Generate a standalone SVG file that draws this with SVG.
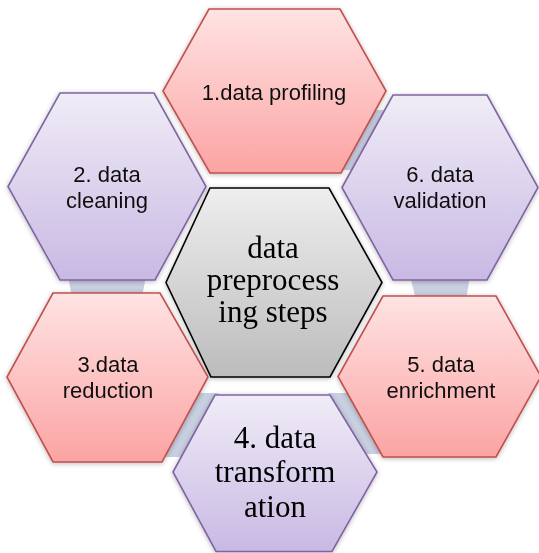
<svg xmlns="http://www.w3.org/2000/svg" width="539" height="553" viewBox="0 0 539 553">
  <style>
    .red { fill: url(#gRed); stroke: #c0504d; stroke-width: 1.6; }
    .pur { fill: url(#gPur); stroke: #8064a2; stroke-width: 1.6; }
    .hub { fill: url(#gGrey); stroke: #000; stroke-width: 1.6; }
    .lbl { font-family: "Liberation Sans", Arial, sans-serif; font-size: 22px; fill: #111; text-anchor: middle; }
    .big { font-family: "Liberation Serif", "Times New Roman", serif; font-size: 31px; fill: #000; text-anchor: middle; }
    .link { fill: #c8cfe1; stroke: none; }
  </style>
  <defs>
    <linearGradient id="gRed" x1="0" y1="0" x2="0" y2="1">
      <stop offset="0" stop-color="#ffe3e3"/>
      <stop offset="1" stop-color="#fba4a3"/>
    </linearGradient>
    <linearGradient id="gPur" x1="0" y1="0" x2="0" y2="1">
      <stop offset="0" stop-color="#f0ecf7"/>
      <stop offset="1" stop-color="#c8b9e3"/>
    </linearGradient>
    <linearGradient id="gGrey" x1="0" y1="0" x2="0" y2="1">
      <stop offset="0" stop-color="#eeeeee"/>
      <stop offset="1" stop-color="#bcbcbc"/>
    </linearGradient>
    <filter id="soft" x="-10%" y="-10%" width="120%" height="120%">
      <feGaussianBlur in="SourceAlpha" stdDeviation="2.5"/>
      <feOffset dx="0" dy="1" result="b"/>
      <feComponentTransfer>
        <feFuncA type="linear" slope="0.28"/>
      </feComponentTransfer>
      <feMerge>
        <feMergeNode/>
        <feMergeNode in="SourceGraphic"/>
      </feMerge>
    </filter>
  </defs>

  <rect width="539" height="553" fill="#fff"/>

  <!-- bands joining neighbouring hexagons, drawn underneath -->
  <g id="connectors">
    <polygon class="link" points="68,276 146,276 142,297 72,297"/>
    <polygon class="link" points="194,393 219,393 185,457 162,457"/>
    <polygon class="link" points="328,393 351,393 382,454 362,454"/>
    <polygon class="link" points="410,276 470,276 466,300 416,300"/>
    <polygon class="link" points="372,110 386,110 353,170 342,170"/>
  </g>

  <g id="n1" filter="url(#soft)">
    <polygon class="red" points="209,9 340,9 386,91 341,173 210,173 163,91"/>
    <text class="lbl" x="274" y="100">1.data profiling</text>
  </g>

  <g id="n2" filter="url(#soft)">
    <polygon class="pur" points="60,93 154,93 206,186.5 155,280 60,280 8,186.5"/>
    <text class="lbl" x="107" y="182">2. data</text>
    <text class="lbl" x="107" y="208">cleaning</text>
  </g>

  <g id="n6" filter="url(#soft)">
    <polygon class="pur" points="393,95 487,95 538,187.5 487,280 393,280 342,187.5"/>
    <text class="lbl" x="440" y="182">6. data</text>
    <text class="lbl" x="440" y="208">validation</text>
  </g>

  <g id="hub" filter="url(#soft)">
    <polygon class="hub" points="210,188 329,188 382,282.5 330,377 211,377 166,282.5"/>
    <text class="big" x="273" y="258">data</text>
    <text class="big" x="273" y="290">preprocess</text>
    <text class="big" x="273" y="322">ing steps</text>
  </g>

  <g id="n3" filter="url(#soft)">
    <polygon class="red" points="53,293 160,293 208,377 162,462 53,462 7,377"/>
    <text class="lbl" x="108" y="372">3.data</text>
    <text class="lbl" x="108" y="398">reduction</text>
  </g>

  <g id="n5" filter="url(#soft)">
    <polygon class="red" points="383,296 496,296 541,376.5 496,457 383,457 338,376.5"/>
    <text class="lbl" x="441" y="372">5. data</text>
    <text class="lbl" x="441" y="398">enrichment</text>
  </g>

  <g id="n4" filter="url(#soft)">
    <polygon class="pur" points="215,395 330,395 377,472 332,551.5 216,551.5 173,472"/>
    <text class="big" x="275" y="448">4. data</text>
    <text class="big" x="275" y="482">transform</text>
    <text class="big" x="275" y="517">ation</text>
  </g>
</svg>
